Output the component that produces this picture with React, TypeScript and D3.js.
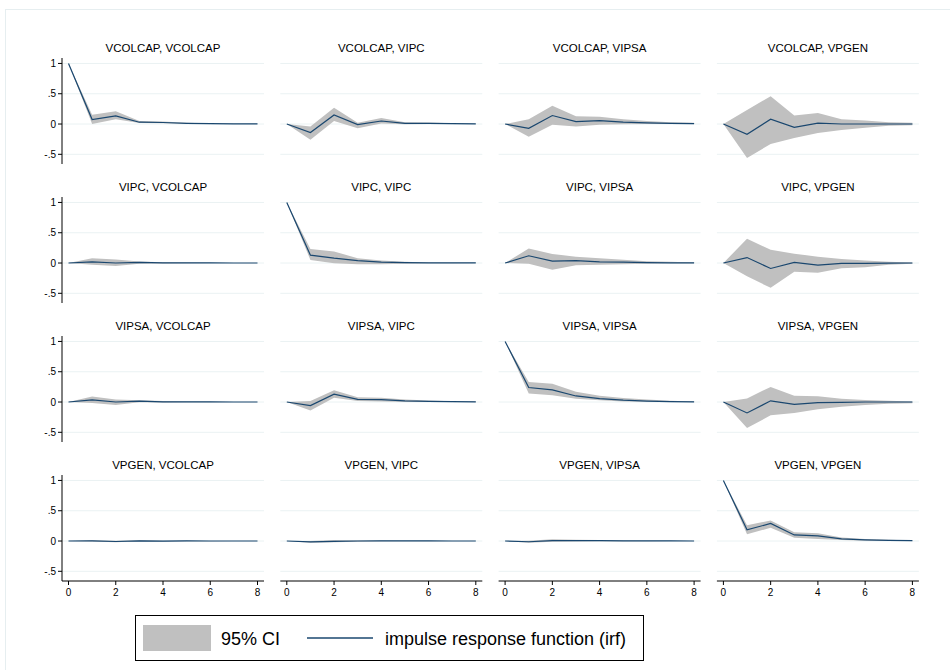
import * as d3 from "d3";

const W = 950;
const H = 670;

const VARS = ["VCOLCAP", "VIPC", "VIPSA", "VPGEN"];
const STEPS = [0, 1, 2, 3, 4, 5, 6, 7, 8];
const Y_TICKS = [1, 0.5, 0, -0.5];
const Y_TICK_LABELS = ["1", ".5", "0", "-.5"];
const X_TICKS = [0, 2, 4, 6, 8];

// irf / lower / upper, one set per (impulse, response) panel
const irfColcapColcap = [1, 0.075, 0.135, 0.03, 0.025, 0.012, 0.006, 0.003, 0.001];
const loColcapColcap = [1, 0.0, 0.08, 0.015, 0.012, 0.004, 0.002, 0.0, 0.0];
const hiColcapColcap = [1, 0.155, 0.21, 0.05, 0.04, 0.02, 0.01, 0.006, 0.003];

const irfColcapIpc = [0, -0.14, 0.15, -0.01, 0.05, 0.012, 0.012, 0.006, 0.003];
const loColcapIpc = [0, -0.26, 0.05, -0.07, 0.01, -0.005, 0.0, 0.0, 0.0];
const hiColcapIpc = [0, -0.04, 0.27, 0.02, 0.1, 0.03, 0.025, 0.012, 0.006];

const irfColcapIpsa = [0, -0.07, 0.14, 0.04, 0.055, 0.03, 0.02, 0.01, 0.005];
const loColcapIpsa = [0, -0.21, -0.01, -0.04, -0.01, -0.005, 0, 0, 0];
const hiColcapIpsa = [0, 0.08, 0.3, 0.13, 0.12, 0.08, 0.05, 0.03, 0.02];

const irfColcapPgen = [0, -0.17, 0.08, -0.055, 0.015, 0.0, 0.0, 0.0, 0.0];
const loColcapPgen = [0, -0.56, -0.33, -0.23, -0.15, -0.1, -0.06, -0.03, -0.02];
const hiColcapPgen = [0, 0.23, 0.46, 0.14, 0.18, 0.08, 0.06, 0.03, 0.02];

const irfIpcColcap = [0, 0.02, 0.0, 0.01, 0.004, 0.002, 0.001, 0, 0];
const loIpcColcap = [0, -0.03, -0.05, -0.01, -0.006, -0.003, -0.001, 0, 0];
const hiIpcColcap = [0, 0.08, 0.06, 0.025, 0.014, 0.007, 0.003, 0.002, 0.001];

const irfIpcIpc = [1, 0.13, 0.08, 0.04, 0.015, 0.008, 0.004, 0.002, 0.001];
const loIpcIpc = [1, 0.05, -0.005, -0.02, -0.02, -0.01, -0.005, -0.002, -0.001];
const hiIpcIpc = [1, 0.23, 0.19, 0.08, 0.04, 0.02, 0.01, 0.006, 0.003];

const irfIpcIpsa = [0, 0.12, 0.03, 0.04, 0.02, 0.015, 0.007, 0.003, 0.001];
const loIpcIpsa = [0, -0.01, -0.11, -0.035, -0.03, -0.02, -0.01, -0.005, -0.002];
const hiIpcIpsa = [0, 0.24, 0.15, 0.105, 0.08, 0.055, 0.03, 0.02, 0.01];

const irfIpcPgen = [0, 0.09, -0.09, 0.01, -0.035, -0.005, -0.005, -0.002, 0];
const loIpcPgen = [0, -0.22, -0.41, -0.145, -0.16, -0.085, -0.07, -0.03, -0.01];
const hiIpcPgen = [0, 0.4, 0.22, 0.155, 0.105, 0.065, 0.04, 0.02, 0.01];

const irfIpsaColcap = [0, 0.035, 0.0, 0.015, 0.004, 0.003, 0.001, 0, 0];
const loIpsaColcap = [0, -0.015, -0.05, -0.005, -0.008, -0.004, -0.002, -0.001, 0];
const hiIpsaColcap = [0, 0.09, 0.04, 0.03, 0.015, 0.008, 0.004, 0.002, 0.001];

const irfIpsaIpc = [0, -0.06, 0.13, 0.045, 0.04, 0.02, 0.012, 0.006, 0.003];
const loIpsaIpc = [0, -0.14, 0.07, 0.015, 0.01, 0.0, 0.0, 0.0, 0.0];
const hiIpsaIpc = [0, 0.015, 0.195, 0.08, 0.07, 0.04, 0.025, 0.013, 0.007];

const irfIpsaIpsa = [1, 0.24, 0.2, 0.1, 0.055, 0.03, 0.015, 0.008, 0.004];
const loIpsaIpsa = [1, 0.14, 0.11, 0.055, 0.03, 0.01, 0.005, 0.0, 0.0];
const hiIpsaIpsa = [1, 0.33, 0.3, 0.17, 0.105, 0.065, 0.04, 0.02, 0.01];

const irfIpsaPgen = [0, -0.18, 0.02, -0.04, -0.01, -0.005, 0, 0, 0];
const loIpsaPgen = [0, -0.43, -0.22, -0.18, -0.12, -0.08, -0.05, -0.03, -0.02];
const hiIpsaPgen = [0, 0.06, 0.25, 0.105, 0.095, 0.055, 0.035, 0.02, 0.01];

const irfPgenColcap = [0, 0.003, -0.008, 0.004, -0.002, 0.001, 0, 0, 0];
const loPgenColcap = [0, -0.008, -0.02, -0.004, -0.007, -0.003, -0.002, -0.001, 0];
const hiPgenColcap = [0, 0.014, 0.004, 0.012, 0.003, 0.004, 0.002, 0.001, 0];

const irfPgenIpc = [0, -0.015, -0.005, 0.0, 0.003, 0.001, 0.001, 0, 0];
const loPgenIpc = [0, -0.03, -0.02, -0.01, -0.005, -0.004, -0.002, -0.001, 0];
const hiPgenIpc = [0, 0.0, 0.015, 0.01, 0.01, 0.006, 0.004, 0.002, 0.001];

const irfPgenIpsa = [0, -0.012, 0.008, 0.005, 0.005, 0.003, 0.002, 0.001, 0];
const loPgenIpsa = [0, -0.03, -0.01, -0.008, -0.004, -0.003, -0.002, -0.001, 0];
const hiPgenIpsa = [0, 0.006, 0.03, 0.02, 0.015, 0.01, 0.006, 0.003, 0.001];

const irfPgenPgen = [1, 0.185, 0.29, 0.1, 0.085, 0.035, 0.02, 0.01, 0.005];
const loPgenPgen = [1, 0.11, 0.22, 0.055, 0.035, 0.015, 0.005, 0, 0];
const hiPgenPgen = [1, 0.26, 0.34, 0.145, 0.13, 0.06, 0.035, 0.02, 0.01];

// rows = impulse, cols = response
const IRF = [
  [irfColcapColcap, irfColcapIpc, irfColcapIpsa, irfColcapPgen],
  [irfIpcColcap, irfIpcIpc, irfIpcIpsa, irfIpcPgen],
  [irfIpsaColcap, irfIpsaIpc, irfIpsaIpsa, irfIpsaPgen],
  [irfPgenColcap, irfPgenIpc, irfPgenIpsa, irfPgenPgen],
];
const LO = [
  [loColcapColcap, loColcapIpc, loColcapIpsa, loColcapPgen],
  [loIpcColcap, loIpcIpc, loIpcIpsa, loIpcPgen],
  [loIpsaColcap, loIpsaIpc, loIpsaIpsa, loIpsaPgen],
  [loPgenColcap, loPgenIpc, loPgenIpsa, loPgenPgen],
];
const HI = [
  [hiColcapColcap, hiColcapIpc, hiColcapIpsa, hiColcapPgen],
  [hiIpcColcap, hiIpcIpc, hiIpcIpsa, hiIpcPgen],
  [hiIpsaColcap, hiIpsaIpc, hiIpsaIpsa, hiIpsaPgen],
  [hiPgenColcap, hiPgenIpc, hiPgenIpsa, hiPgenPgen],
];

const FONT = "'Liberation Sans', Arial, Helvetica, sans-serif";
const NAVY = "#1a476f";
const CI_FILL = "#c0c0c0";
const GRID = "#eaf2f3";

const PLOT_LEFT0 = 62;
const COL_STEP = 218.3;
const PLOT_W = 202;
const ZERO_Y0 = 124;
const ROW_STEP = 139;

function Panel({ r, c }: { r: number; c: number }) {
  const left = PLOT_LEFT0 + c * COL_STEP;
  const zero = ZERO_Y0 + r * ROW_STEP;
  const x = d3.scaleLinear().domain([0, 8]).range([left + 6.5, left + PLOT_W - 6.5]);
  const y = d3.scaleLinear().domain([-0.66, 1.09]).range([zero + 40, zero - 66]);
  const [y0, y1] = y.range();

  const rows = STEPS.map((s, i) => ({ s, irf: IRF[r][c][i], lo: LO[r][c][i], hi: HI[r][c][i] }));
  const area = d3.area<any>().x((d) => x(d.s)).y0((d) => y(d.lo)).y1((d) => y(d.hi));
  const line = d3.line<any>().x((d) => x(d.s)).y((d) => y(d.irf));

  return (
    <g>
      <text x={left + PLOT_W / 2} y={y(1) - 11} textAnchor="middle" fontSize={11.5} fontFamily={FONT} fill="#000">
        {`${VARS[r]}, ${VARS[c]}`}
      </text>
      {Y_TICKS.map((t) => (
        <line key={t} x1={left} x2={left + PLOT_W} y1={y(t)} y2={y(t)} stroke={GRID} strokeWidth={1} />
      ))}
      <path d={area(rows) || ""} fill={CI_FILL} />
      <path d={line(rows) || ""} fill="none" stroke={NAVY} strokeWidth={1.2} />
      {c === 0 && (
        <g>
          <line x1={left} x2={left} y1={y1} y2={y0} stroke="#000" strokeWidth={1} />
          {Y_TICKS.map((t, i) => (
            <g key={t}>
              <line x1={left - 4} x2={left} y1={y(t)} y2={y(t)} stroke="#000" strokeWidth={1} />
              <text x={left - 6} y={y(t) + 3.5} textAnchor="end" fontSize={10} fontFamily={FONT} fill="#000">
                {Y_TICK_LABELS[i]}
              </text>
            </g>
          ))}
        </g>
      )}
      {r === 3 && (
        <g>
          <line x1={left} x2={left + PLOT_W} y1={y0} y2={y0} stroke="#000" strokeWidth={1} />
          {X_TICKS.map((t) => (
            <g key={t}>
              <line x1={x(t)} x2={x(t)} y1={y0} y2={y0 + 4} stroke="#000" strokeWidth={1} />
              <text x={x(t)} y={y0 + 15} textAnchor="middle" fontSize={10} fontFamily={FONT} fill="#000">
                {t}
              </text>
            </g>
          ))}
        </g>
      )}
    </g>
  );
}

export default function App() {
  const cells: [number, number][] = [];
  for (let r = 0; r < 4; r++) for (let c = 0; c < 4; c++) cells.push([r, c]);

  return (
    <svg
      width={W}
      height={H}
      style={{ position: "absolute", left: 0, top: 0, background: "#fff" }}
    >
      <rect x={5.5} y={9.5} width={W} height={H} fill="#fff" stroke="#e6eef0" strokeWidth={1} />
      {cells.map(([r, c]) => (
        <Panel key={`${r}-${c}`} r={r} c={c} />
      ))}
      {/* legend */}
      <g>
        <rect x={135.5} y={615.5} width={508} height={45} fill="#fff" stroke="#000" strokeWidth={1} />
        <rect x={143} y={625} width={68} height={26} fill={CI_FILL} />
        <text x={221} y={645} fontSize={18} fontFamily={FONT} fill="#000">95% CI</text>
        <line x1={307} x2={373} y1={638} y2={638} stroke={NAVY} strokeWidth={1.5} />
        <text x={385} y={645} fontSize={18} fontFamily={FONT} fill="#000">impulse response function (irf)</text>
      </g>
    </svg>
  );
}
